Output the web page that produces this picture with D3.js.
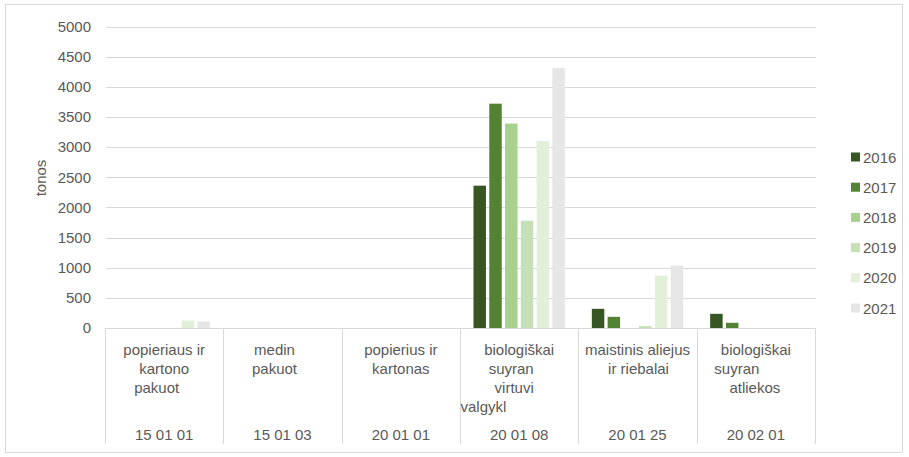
<!DOCTYPE html>
<html><head><meta charset="utf-8">
<script src="https://cdn.jsdelivr.net/npm/d3@7"></script>
<style>
html,body{margin:0;padding:0;background:#fff;}
svg text{font-family:"Liberation Sans",Arial,sans-serif;fill:#595959;}
</style></head>
<body><svg id="c" width="909" height="457"></svg>
<script>
const codes = ["15 01 01","15 01 03","20 01 01","20 01 08","20 01 25","20 02 01"];
const names = [
  ["popieriaus ir","kartono","pakuot"],
  ["medin","pakuot"],
  ["popierius ir","kartonas"],
  ["biologiškai","suyran","virtuvi","valgykl"],
  ["maistinis aliejus","ir riebalai"],
  ["biologiškai","suyran","atliekos"]
];
const years = ["2016","2017","2018","2019","2020","2021"];
const v2016 = [0,0,0,2360,318,235];
const v2017 = [0,0,0,3720,185,86];
const v2018 = [0,0,0,3390,0,0];
const v2019 = [0,0,0,1780,30,0];
const v2020 = [124,0,0,3100,869,0];
const v2021 = [108,0,0,4310,1035,0];
const yTicks = [0,500,1000,1500,2000,2500,3000,3500,4000,4500,5000];
const colors = ["#375623","#548235","#A9D18E","#C5E0B4","#E2F0D9","#E6E6E6"];

const series = [v2016,v2017,v2018,v2019,v2020,v2021];
const svg = d3.select("#c");
const FS = "15px";

// outer border
svg.append("rect").attr("x",5.5).attr("y",4.5).attr("width",897).attr("height",448)
  .attr("fill","#fff").attr("stroke","#d9d9d9");

const x0 = d3.scaleBand().domain(codes).range([105,815]).padding(0);
const bw = x0.bandwidth();
const x1 = d3.scaleBand().domain(years).range([13.5,bw-13.5]).paddingInner(0.21).paddingOuter(0);
const y = d3.scaleLinear().domain([0,5000]).range([328,26.5]);

// gridlines
svg.append("g").selectAll("line").data(yTicks.filter(t=>t>0)).join("line")
  .attr("x1",106).attr("x2",816)
  .attr("y1",d=>Math.round(y(d))+0.5).attr("y2",d=>Math.round(y(d))+0.5)
  .attr("stroke","#d9d9d9").attr("stroke-width",1);

// y axis labels
const yAxis = d3.axisLeft(y).tickValues(yTicks).tickFormat(d3.format("d")).tickSize(0).tickPadding(0);
const ga = svg.append("g").attr("transform","translate(91,0)").call(yAxis);
ga.select(".domain").remove();
ga.selectAll("text").style("font-size",FS).attr("fill","#595959")
  .style("font-family","'Liberation Sans',Arial,sans-serif");

// y title
svg.append("text").attr("transform","translate(46,178) rotate(-90)")
  .attr("text-anchor","middle").style("font-size",FS).text("tonos");

// bars
const groups = svg.append("g").selectAll("g").data(codes).join("g")
  .attr("transform",d=>`translate(${x0(d)},0)`);
groups.selectAll("rect").data((d,i)=>years.map((yr,j)=>({yr,v:series[j][i],c:colors[j]})))
  .join("rect")
  .attr("x",d=>x1(d.yr)).attr("width",x1.bandwidth())
  .attr("y",d=>y(d.v)).attr("height",d=>y(0)-y(d.v))
  .attr("fill",d=>d.c);

// category table lines
svg.append("line").attr("x1",105).attr("x2",816).attr("y1",328.5).attr("y2",328.5)
  .attr("stroke","#d9d9d9");
svg.append("g").selectAll("line").data(codes.concat(["end"])).join("line")
  .attr("x1",(d,i)=>Math.round(i<codes.length?x0(d):x0.range()[1])+0.5)
  .attr("x2",(d,i)=>Math.round(i<codes.length?x0(d):x0.range()[1])+0.5)
  .attr("y1",328).attr("y2",444).attr("stroke","#d9d9d9");

// category labels (per-line horizontal nudge, mimicking original wrapping)
const nudge = [[0,0,-7.5],[-8,-8],[0,0],[0,-8,-5,null],[0,1],[0,-19,-1]];
names.forEach((lines,i)=>{
  const cx = x0(codes[i]) + bw/2;
  lines.forEach((t,k)=>{
    const n = nudge[i][k];
    const tx = svg.append("text").attr("y",355 + k*18.9).style("font-size",FS).text(t);
    if(n===null){ tx.attr("x",x0(codes[i])+0.5).attr("text-anchor","start"); }
    else { tx.attr("x",cx+n).attr("text-anchor","middle"); }
  });
  svg.append("text").attr("x",cx).attr("y",440).attr("text-anchor","middle")
    .style("font-size",FS).text(codes[i]);
});

// legend
const lg = svg.append("g").selectAll("g").data(years).join("g")
  .attr("transform",(d,i)=>`translate(851,${157+i*30.2})`);
lg.append("rect").attr("x",0).attr("y",-4.5).attr("width",9).attr("height",9)
  .attr("fill",(d,i)=>colors[i]);
lg.append("text").attr("x",12).attr("y",5.5).style("font-size",FS).text(d=>d);
</script></body></html>
